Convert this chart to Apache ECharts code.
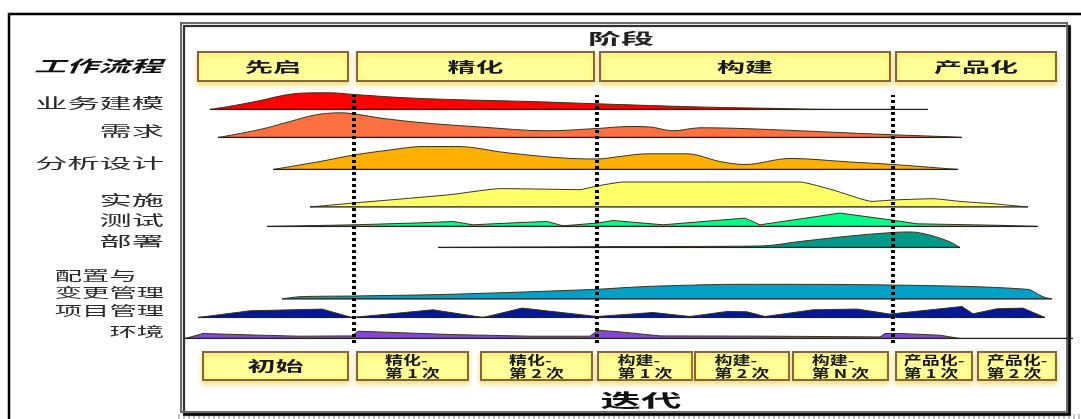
<!DOCTYPE html>
<html>
<head>
<meta charset="utf-8">
<script src="https://cdn.jsdelivr.net/npm/echarts@6/dist/echarts.min.js"></script>
<style>
  html, body { margin: 0; padding: 0; background: #fff; }
  #chart { width: 1081px; height: 419px; }
</style>
</head>
<body>
<div id="chart"></div>
<script>
// ---- Timeline data (x = project time units, y = effort) ----
const workflows = ['业务建模', '需求', '分析设计', '实施', '测试', '部署', '配置与\n变更管理', '项目管理', '环境'];

const bizModeling = [[30,0],[60,5],[85,10],[105,14.5],[125,16.5],[150,16.7],[174,15],[220,12],[270,10],[350,8],[417,5.7],[520,2.5],[600,1],[650,0],[748,0]];
const requirements = [[38,0],[80,8],[110,16],[135,22.5],[160,24.7],[174,23.7],[200,19.5],[243,14.7],[300,10.5],[367,6.7],[417,9],[450,11],[470,10.5],[493,6.7],[520,9.7],[570,8.7],[713,2.7],[770,0.7],[782,0]];
const analysisDesign = [[93,0],[140,8],[174,14.5],[210,19.5],[243,23],[277,23],[327,16.7],[380,11.7],[417,10.5],[440,13],[467,15.7],[507,15.7],[540,8],[565,5],[610,11],[670,7.5],[713,5],[778,0]];
const implementation = [[130,0],[174,4],[270,12.3],[320,18.4],[400,17.4],[417,21],[443,25],[620,25],[653,17],[692,5.6],[713,7],[753,8.3],[780,5.6],[813,3.3],[848,0]];
const testing = [[87,0],[174,1.7],[233,3.4],[273,5],[293,1.7],[340,4],[367,5],[383,0.7],[417,3.4],[433,6],[483,1.7],[565,8.4],[580,1.7],[660,13.4],[710,6.7],[737,2.7],[820,1.2],[858,0]];
const deployment = [[258,0],[420,0.8],[580,1.5],[620,6],[670,11.5],[713,15],[730,15.6],[750,12.3],[770,5.6],[780,0]];
const configChange = [[102,0],[120,2.3],[174,3],[270,4.7],[417,9.7],[450,11.7],[480,13],[560,14.7],[710,14],[847,9.7],[863,2.3],[872,0]];
const projectMgmt = [[18,0],[70,6.7],[142,8.4],[172,0],[253,7.7],[303,0],[342,9.4],[417,1],[473,5],[510,1],[547,6],[567,5.7],[585,1],[633,7.7],[677,8.4],[710,3.4],[782,11],[793,3.7],[817,8.7],[843,9.4],[865,0]];
const environment = [[5,0],[23,5],[80,3.3],[120,2.3],[172,2.6],[178,7.3],[270,4],[350,2.3],[410,2.3],[418,8.3],[440,6.6],[480,2.6],[590,2.3],[700,1.6],[705,5],[720,5],[760,3.3],[780,0],[893,0]];

const effortData = [bizModeling, requirements, analysisDesign, implementation, testing, deployment, configChange, projectMgmt, environment];

const phases = ['先启', '精化', '构建', '产品化'];
const phaseStart = [18, 177, 420, 716];
const phaseEnd = [168, 414, 710, 876];
const phaseBoundaries = [174, 417, 713];

const iterations = ['初始', '精化-\n第 1 次', '精化-\n第 2 次', '构建-\n第 1 次', '构建-\n第 2 次', '构建-\n第 N 次', '产品化-\n第 1 次', '产品化-\n第 2 次'];
const iterStart = [23, 177, 301, 418, 515, 613, 716, 798];
const iterEnd = [168, 288, 412, 512, 609, 708, 792, 876];

// ---- Styling / layout ----
const rowColors = ['#ff0000', '#ff7040', '#ffb000', '#ffff66', '#00ff88', '#00998a', '#00a0c8', '#00199a', '#8446d4'];
const rowSmooth = [0.35, 0.35, 0.35, 0.15, 0, 0.35, 0.3, 0, 0];
const rowBaselines = [109.5, 137.5, 169.5, 207, 226.5, 247.5, 299, 317.5, 338.5];
const ROW_H = 30;
const X_LEFT = 180, X_SPAN = 900;
const CJK = '"Noto Sans CJK SC"';

const measureCtx = document.createElement('canvas').getContext('2d');
function blockWidth(str, font) {
  measureCtx.font = font;
  return Math.max.apply(null, str.split('\n').map(s => measureCtx.measureText(s).width));
}

const grids = [], xAxes = [], yAxes = [], series = [];
function addGrid(top, height, ymax) {
  grids.push({ left: X_LEFT, width: X_SPAN, top: top, height: height });
  xAxes.push({ type: 'value', min: 0, max: X_SPAN, show: false, gridIndex: grids.length - 1 });
  yAxes.push({ type: 'value', min: 0, max: ymax, show: false, gridIndex: grids.length - 1 });
  return grids.length - 1;
}

// workflow humps
effortData.forEach((data, i) => {
  const g = addGrid(rowBaselines[i] - ROW_H, ROW_H, ROW_H);
  series.push({
    type: 'line', xAxisIndex: g, yAxisIndex: g, data: data,
    symbol: 'none', smooth: rowSmooth[i],
    lineStyle: { color: '#3d3418', width: 1 },
    areaStyle: { color: rowColors[i], opacity: 1 },
    silent: true, z: 3
  });
  series.push({
    type: 'line', xAxisIndex: g, yAxisIndex: g,
    data: [[data[0][0], 0], [data[data.length - 1][0], 0]],
    symbol: 'none', lineStyle: { color: '#222', width: 1.3 }, silent: true, z: 4
  });
});

// phase boundary dotted lines
const gLines = addGrid(95, 248, 1);
series.push({
  type: 'line', xAxisIndex: gLines, yAxisIndex: gLines, data: [[0, 0]],
  symbol: 'none', lineStyle: { width: 0 }, silent: true, z: 6,
  markLine: {
    silent: true, symbol: ['none', 'none'], label: { show: false },
    lineStyle: { color: '#000', width: 4, type: [3, 3] },
    data: phaseBoundaries.map(v => ({ xAxis: v }))
  }
});

function boxSeries(gridIdx, starts, ends, names, opts) {
  return {
    type: 'custom', xAxisIndex: gridIdx, yAxisIndex: gridIdx, clip: false, silent: true, z: 5,
    data: starts.map((s, i) => [s, ends[i]]),
    renderItem: function (params, api) {
      const p0 = api.coord([api.value(0), 1]);
      const p1 = api.coord([api.value(1), 0]);
      const name = names[params.dataIndex];
      const multi = name.indexOf('\n') >= 0;
      const font = multi ? opts.smallFont : opts.font;
      const sx = multi ? opts.smallScale : opts.scale;
      const cx = (p0[0] + p1[0]) / 2, cy = (p0[1] + p1[1]) / 2;
      const w = blockWidth(name, font) * sx;
      return {
        type: 'group',
        children: [
          {
            type: 'rect',
            shape: { x: p0[0], y: p0[1], width: p1[0] - p0[0], height: p1[1] - p0[1] },
            style: {
              fill: '#ffff99', stroke: '#85663a', lineWidth: 2,
              shadowColor: 'rgba(235,205,60,0.65)', shadowBlur: 5, shadowOffsetY: 3
            }
          },
          {
            type: 'text',
            x: multi ? cx - w / 2 : cx, y: cy + (multi ? 1 : 0), scaleX: sx,
            style: {
              text: name, font: font, fill: '#1a1a1a', lineHeight: 13,
              align: multi ? 'left' : 'center', verticalAlign: 'middle',
              textAlign: multi ? 'left' : 'center', textVerticalAlign: 'middle'
            }
          }
        ]
      };
    }
  };
}

const gPhase = addGrid(52, 29, 1);
series.push(boxSeries(gPhase, phaseStart, phaseEnd, phases,
  { font: 'bold 14px ' + CJK, scale: 2.0, smallFont: 'bold 12px ' + CJK, smallScale: 1.45 }));
const gIter = addGrid(352, 28, 1);
series.push(boxSeries(gIter, iterStart, iterEnd, iterations,
  { font: 'bold 14px ' + CJK, scale: 2.0, smallFont: 'bold 12px ' + CJK, smallScale: 1.5 }));

// ---- frames, titles and workflow labels ----
const graphics = [
  { type: 'polyline', z: -10, shape: { points: [[9, 419], [9, 14], [1081, 14]] },
    style: { stroke: '#000', lineWidth: 2.5, fill: null } },
  { type: 'line', z: -10, shape: { x1: 178, y1: 416.5, x2: 1081, y2: 416.5 },
    style: { stroke: '#c4c4c4', lineWidth: 5, lineDash: [2, 3] } },
  { type: 'rect', z: -8, shape: { x: 181, y: 23, width: 886, height: 389 },
    style: { fill: '#fff', stroke: '#6a6a6a', lineWidth: 2,
      shadowColor: 'rgba(0,0,0,0.9)', shadowOffsetX: 3, shadowOffsetY: 3, shadowBlur: 1 } },
  { type: 'text', x: 621, y: 38.5, scaleX: 2.2, z: 10,
    style: { text: '阶段', font: 'bold 15px ' + CJK, fill: '#222', align: 'center', verticalAlign: 'middle', textAlign: 'center', textVerticalAlign: 'middle' } },
  { type: 'text', x: 641, y: 400, scaleX: 2.25, z: 10,
    style: { text: '迭代', font: 'bold 18px ' + CJK, fill: '#111', align: 'center', verticalAlign: 'middle', textAlign: 'center', textVerticalAlign: 'middle' } },
  { type: 'text', x: 98, y: 66, scaleX: 2.0, z: 10,
    style: { text: '工作流程', font: 'italic bold 16px ' + CJK, fill: '#111', align: 'center', verticalAlign: 'middle', textAlign: 'center', textVerticalAlign: 'middle' } }
];

const LABEL_RIGHT = 164;
workflows.forEach((name, i) => {
  const small = i >= 6;
  const fs = small ? 13 : 14;
  const sx = small ? 2.1 : 2.3;
  const font = fs + 'px ' + CJK;
  const multi = name.indexOf('\n') >= 0;
  const w = blockWidth(name, font) * sx;
  graphics.push({
    type: 'text', z: 10,
    x: multi ? LABEL_RIGHT - w : LABEL_RIGHT, y: rowBaselines[i] + 1.5, scaleX: sx,
    style: {
      text: name, font: font, fill: '#2a2a2a', lineHeight: 17,
      align: multi ? 'left' : 'right', verticalAlign: 'bottom',
      textAlign: multi ? 'left' : 'right', textVerticalAlign: 'bottom'
    }
  });
});

const chart = echarts.init(document.getElementById('chart'), null, { renderer: 'canvas' });
chart.setOption({
  animation: false,
  backgroundColor: '#fff',
  grid: grids, xAxis: xAxes, yAxis: yAxes,
  series: series,
  graphic: { elements: graphics }
});
</script>
</body>
</html>
